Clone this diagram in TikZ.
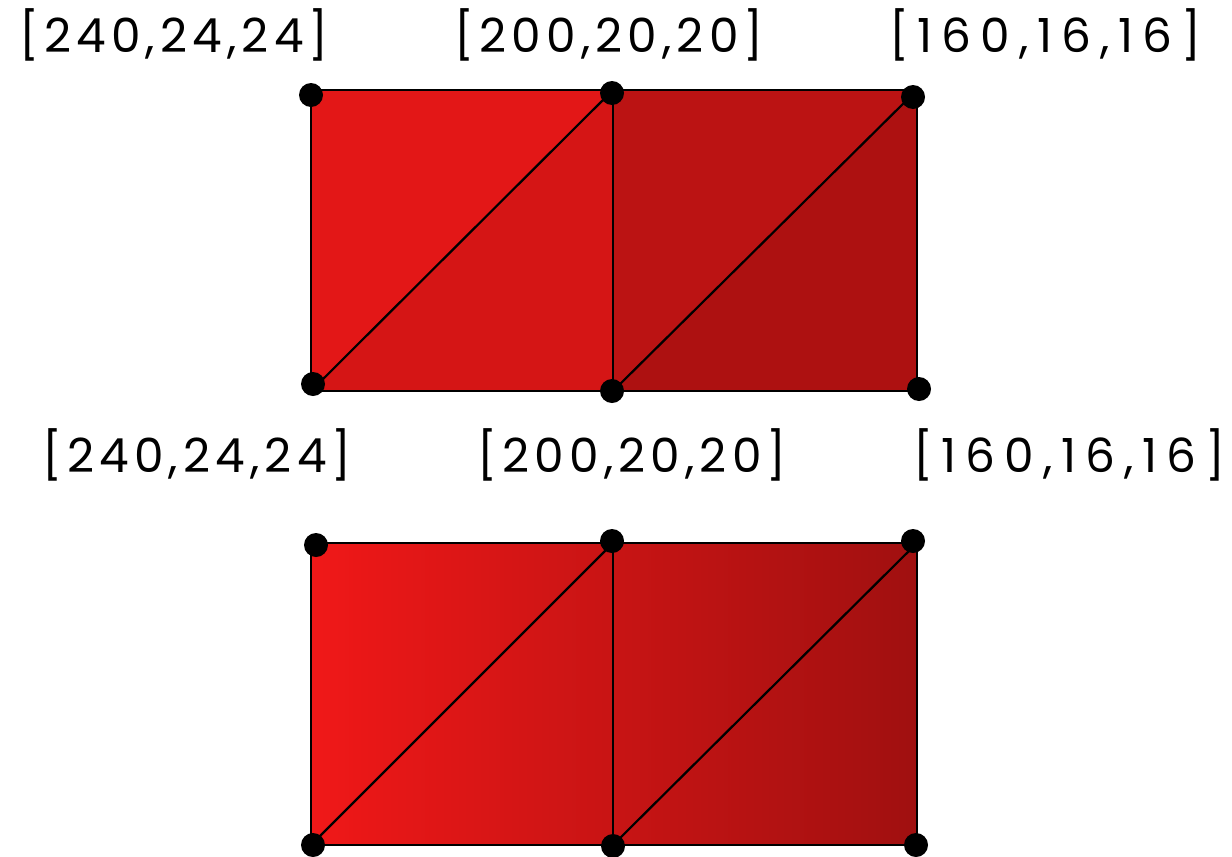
\documentclass[tikz,border=0pt]{standalone}
\usepackage{fontspec}
\setmainfont{Poppins}[LetterSpace=11]
\definecolor{cA}{RGB}{240,24,24}
\definecolor{cB}{RGB}{200,20,20}
\definecolor{cC}{RGB}{160,16,16}
\definecolor{tUL}{RGB}{227,23,23}
\definecolor{tLL}{RGB}{213,21,21}
\definecolor{tUR}{RGB}{187,19,19}
\definecolor{tLR}{RGB}{173,17,17}
\begin{document}
\begin{tikzpicture}[x=1pt,y=-1pt,
  dot/.style={circle,fill=black,inner sep=0pt,minimum size=24pt},
  lab/.style={font=\fontsize{47}{56}\selectfont,inner sep=0pt},
  labwide/.style={font=\fontsize{47}{56}\selectfont\addfontfeature{LetterSpace=19},inner sep=0pt},
  edge/.style={draw=black,line width=2.2pt,line join=round}]
\useasboundingbox (0,0) rectangle (1232,857);
% ---------- top mesh (flat shading) ----------
\coordinate (p1) at (311,90);
\coordinate (p2) at (613,90);
\coordinate (p3) at (917,90);
\coordinate (p4) at (311,391);
\coordinate (p5) at (613,391);
\coordinate (p6) at (917,391);
\fill[tUL] (p1) -- (p2) -- (p4) -- cycle;
\fill[tLL] (p4) -- (p2) -- (p5) -- cycle;
\fill[tUR] (p2) -- (p3) -- (p5) -- cycle;
\fill[tLR] (p5) -- (p3) -- (p6) -- cycle;
\draw[edge] (p1) -- (p3) -- (p6) -- (p4) -- cycle;
\draw[edge] (p2) -- (p5);
\draw[edge] (p4) -- (p2);
\draw[edge] (p5) -- (p3);
\node[dot] (d1) at (311,95) {};
\node[dot] (d2) at (612,93) {};
\node[dot] (d3) at (913,97) {};
\node[dot] (d4) at (313,384) {};
\node[dot] (d5) at (612,391) {};
\node[dot] (d6) at (919,389) {};
\node[lab] (l1) at (174,35) {[240,24,24]};
\node[lab] (l2) at (609,35) {[200,20,20]};
\node[labwide] (l3) at (1045,35) {[160,16,16]};
% ---------- bottom mesh (smooth shading) ----------
\coordinate (q1) at (311,543);
\coordinate (q2) at (613,543);
\coordinate (q3) at (917,543);
\coordinate (q4) at (311,845);
\coordinate (q5) at (613,845);
\coordinate (q6) at (917,845);
\shade[left color=cA,right color=cB] (q1) rectangle (q5);
\shade[left color=cB,right color=cC] (q2) rectangle (q6);
\draw[edge] (q1) -- (q3) -- (q6) -- (q4) -- cycle;
\draw[edge] (q2) -- (q5);
\draw[edge] (q4) -- (q2);
\draw[edge] (q5) -- (q3);
\node[dot] (e1) at (316,545) {};
\node[dot] (e2) at (612,541) {};
\node[dot] (e3) at (913,541) {};
\node[dot] (e4) at (313,845) {};
\node[dot] (e5) at (613,846) {};
\node[dot] (e6) at (916,845) {};
\node[lab] (m1) at (197,455) {[240,24,24]};
\node[lab] (m2) at (632,455) {[200,20,20]};
\node[labwide] (m3) at (1069,455) {[160,16,16]};
\end{tikzpicture}
\end{document}
